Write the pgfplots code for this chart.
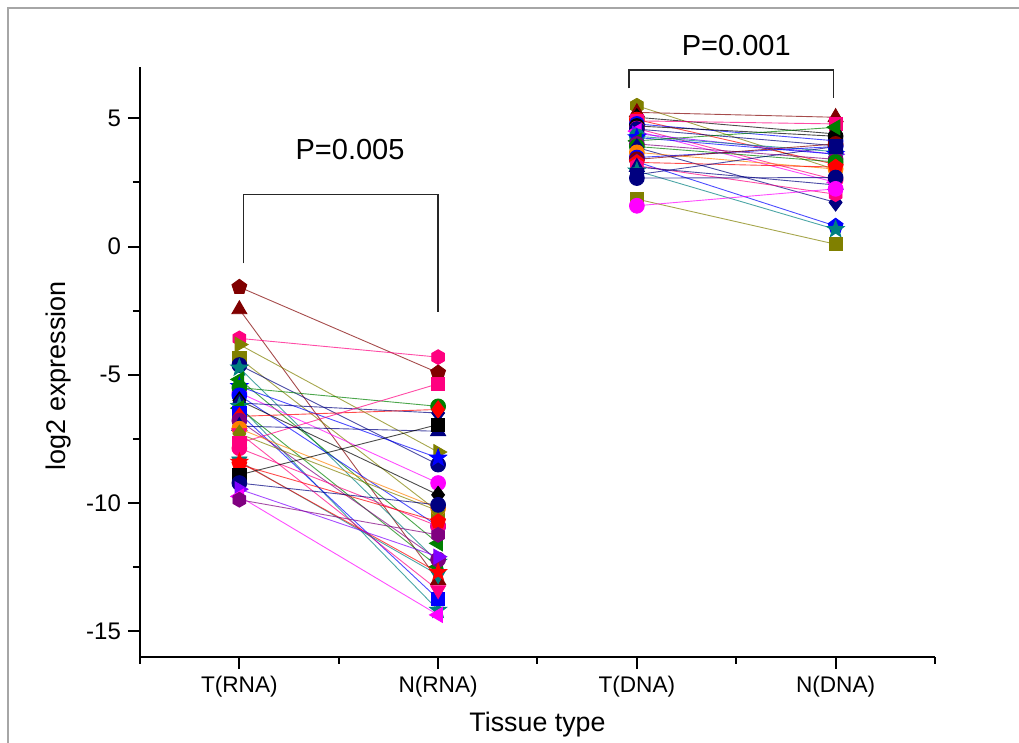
\documentclass[border=0pt]{standalone}
\usepackage{fontspec}
\setmainfont{Liberation Sans}
\usepackage{pgfplots}
\pgfplotsset{compat=1.18}
\usetikzlibrary{plotmarks}
\definecolor{oblack}{HTML}{000000}
\definecolor{ored}{HTML}{FF0000}
\definecolor{oblue}{HTML}{0000FF}
\definecolor{omag}{HTML}{FF00FF}
\definecolor{oolive}{HTML}{808000}
\definecolor{onavy}{HTML}{000080}
\definecolor{oviolet}{HTML}{8000FF}
\definecolor{opurple}{HTML}{800080}
\definecolor{owine}{HTML}{800000}
\definecolor{oteal}{HTML}{008080}
\definecolor{opink}{HTML}{FF0080}
\definecolor{ogreen}{HTML}{008000}
\definecolor{oorange}{HTML}{FF8000}
\pgfdeclareplotmark{hexagon*}{%
  \pgfpathmoveto{\pgfpointpolar{90}{\pgfplotmarksize}}%
  \pgfpathlineto{\pgfpointpolar{150}{\pgfplotmarksize}}%
  \pgfpathlineto{\pgfpointpolar{210}{\pgfplotmarksize}}%
  \pgfpathlineto{\pgfpointpolar{270}{\pgfplotmarksize}}%
  \pgfpathlineto{\pgfpointpolar{330}{\pgfplotmarksize}}%
  \pgfpathlineto{\pgfpointpolar{30}{\pgfplotmarksize}}%
  \pgfpathclose\pgfusepathqfillstroke}
\pgfdeclareplotmark{star*}{%
  \pgfpathmoveto{\pgfpointpolar{90}{1.2\pgfplotmarksize}}%
  \pgfpathlineto{\pgfpointpolar{126}{0.5\pgfplotmarksize}}%
  \pgfpathlineto{\pgfpointpolar{162}{1.2\pgfplotmarksize}}%
  \pgfpathlineto{\pgfpointpolar{198}{0.5\pgfplotmarksize}}%
  \pgfpathlineto{\pgfpointpolar{234}{1.2\pgfplotmarksize}}%
  \pgfpathlineto{\pgfpointpolar{270}{0.5\pgfplotmarksize}}%
  \pgfpathlineto{\pgfpointpolar{306}{1.2\pgfplotmarksize}}%
  \pgfpathlineto{\pgfpointpolar{342}{0.5\pgfplotmarksize}}%
  \pgfpathlineto{\pgfpointpolar{18}{1.2\pgfplotmarksize}}%
  \pgfpathlineto{\pgfpointpolar{54}{0.5\pgfplotmarksize}}%
  \pgfpathclose\pgfusepathqfillstroke}
\pgfplotsset{
  p/.style={color=#1, line width=0.45pt, draw opacity=0.7, mark size=3.7pt,
    every mark/.append style={draw opacity=1, fill opacity=1}},
  sq/.style={mark=square*, mark size=3.3pt},
  ci/.style={mark=*},
  tu/.style={mark=triangle*, mark size=4.3pt},
  td/.style={mark=triangle*, mark size=4.3pt, every mark/.append style={rotate=180}},
  tl/.style={mark=triangle*, mark size=4.3pt, every mark/.append style={rotate=90}},
  tr/.style={mark=triangle*, mark size=4.3pt, every mark/.append style={rotate=-90}},
  di/.style={mark=diamond*, mark size=4.3pt},
  hx/.style={mark=hexagon*},
  st/.style={mark=star*},
  pe/.style={mark=pentagon*, mark size=3.9pt},
}
\begin{document}
\begin{tikzpicture}
\useasboundingbox (-70pt,-43pt) rectangle (439.5pt,328.5pt);
\begin{axis}[
  at={(0,0)}, anchor=south west,
  scale only axis, width=397.5pt, height=295pt,
  xmin=-0.5, xmax=3.5, ymin=-16, ymax=7,
  axis x line*=bottom, axis y line*=left,
  axis line style={line width=1pt},
  tick align=outside,
  major tick length=6pt, minor tick length=3.5pt,
  every tick/.style={black, line width=1pt},
  xtick={0,1,2,3}, xticklabels={T(RNA),N(RNA),T(DNA),N(DNA)},
  minor xtick={-0.5,0.5,1.5,2.5,3.5},
  ytick={-15,-10,-5,0,5}, minor ytick={-12.5,-7.5,-2.5,2.5},
  /pgf/number format/assume math mode=true,
  xticklabel style={font=\fontsize{11.3}{13}\selectfont},
  yticklabel style={font=\fontsize{12}{14}\selectfont},
  xlabel={Tissue type}, ylabel={log2 expression},
  xlabel style={font=\fontsize{13.4}{15}\selectfont, at={(axis description cs:0.5,0)}, anchor=center, yshift=-34pt},
  ylabel style={font=\fontsize{13.5}{15}\selectfont, at={(axis description cs:0,0.477)}, anchor=center, yshift=40.5pt},
  clip=false,
]
% RNA pairs
\addplot[p=owine, pe] coordinates {(0,-1.58) (1,-4.92)};
\addplot[p=owine, tu] coordinates {(0,-2.45) (1,-13.0)};
\addplot[p=opink, hx] coordinates {(0,-3.58) (1,-4.31)};
\addplot[p=oolive, tr] coordinates {(0,-3.82) (1,-8.01)};
\addplot[p=oolive, sq] coordinates {(0,-4.36) (1,-10.33)};
\addplot[p=onavy, ci] coordinates {(0,-4.62) (1,-8.5)};
\addplot[p=oteal, st] coordinates {(0,-4.73) (1,-12.3)};
\addplot[p=ogreen, tl] coordinates {(0,-5.18) (1,-11.57)};
\addplot[p=oblue, st] coordinates {(0,-5.45) (1,-8.24)};
\addplot[p=omag, ci] coordinates {(0,-5.7) (1,-9.22)};
\addplot[p=ogreen, ci] coordinates {(0,-5.5) (1,-6.23)};
\addplot[p=oblue, ci] coordinates {(0,-5.8) (1,-10.9)};
\addplot[p=oblack, di] coordinates {(0,-6.0) (1,-9.68)};
\addplot[p=onavy, di] coordinates {(0,-6.1) (1,-6.49)};
\addplot[p=oteal, st] coordinates {(0,-6.23) (1,-14.17)};
\addplot[p=ogreen, tl] coordinates {(0,-6.3) (1,-12.48)};
\addplot[p=oblue, sq] coordinates {(0,-6.5) (1,-13.74)};
\addplot[p=ored, di] coordinates {(0,-6.62) (1,-6.35)};
\addplot[p=opurple, ci] coordinates {(0,-6.79) (1,-12.2)};
\addplot[p=onavy, tu] coordinates {(0,-7.0) (1,-7.2)};
\addplot[p=oorange, ci] coordinates {(0,-7.1) (1,-10.2)};
\addplot[p=opink, td] coordinates {(0,-7.27) (1,-13.39)};
\addplot[p=oolive, di] coordinates {(0,-7.3) (1,-10.3)};
\addplot[p=opink, sq] coordinates {(0,-7.66) (1,-5.35)};
\addplot[p=opink, ci] coordinates {(0,-7.86) (1,-10.9)};
\addplot[p=oteal, td] coordinates {(0,-8.37) (1,-12.8)};
\addplot[p=ored, st] coordinates {(0,-8.4) (1,-12.7)};
\addplot[p=ored, pe] coordinates {(0,-8.5) (1,-10.72)};
\addplot[p=oblack, sq] coordinates {(0,-8.9) (1,-6.94)};
\addplot[p=onavy, ci] coordinates {(0,-9.22) (1,-10.07)};
\addplot[p=oviolet, tr] coordinates {(0,-9.46) (1,-12.09)};
\addplot[p=omag, tl] coordinates {(0,-9.74) (1,-14.36)};
\addplot[p=opurple, hx] coordinates {(0,-9.87) (1,-11.24)};
% DNA pairs
\addplot[p=oolive, hx] coordinates {(2,5.49) (3,3.0)};
\addplot[p=owine, tu] coordinates {(2,5.23) (3,5.04)};
\addplot[p=oblack, di] coordinates {(2,5.04) (3,4.39)};
\addplot[p=ored, ci] coordinates {(2,4.95) (3,3.2)};
\addplot[p=opink, sq] coordinates {(2,4.9) (3,4.78)};
\addplot[p=oblue, ci] coordinates {(2,4.78) (3,4.12)};
\addplot[p=oblack, ci] coordinates {(2,4.7) (3,4.3)};
\addplot[p=opink, ci] coordinates {(2,4.6) (3,2.6)};
\addplot[p=onavy, ci] coordinates {(2,4.58) (3,3.93)};
\addplot[p=omag, tl] coordinates {(2,4.5) (3,2.5)};
\addplot[p=oviolet, tr] coordinates {(2,4.4) (3,3.6)};
\addplot[p=oteal, ci] coordinates {(2,4.3) (3,3.7)};
\addplot[p=oblue, st] coordinates {(2,4.25) (3,3.6)};
\addplot[p=ogreen, tl] coordinates {(2,4.12) (3,4.65)};
\addplot[p=opurple, ci] coordinates {(2,4.0) (3,3.4)};
\addplot[p=ogreen, ci] coordinates {(2,3.9) (3,3.3)};
\addplot[p=onavy, di] coordinates {(2,3.86) (3,1.72)};
\addplot[p=oorange, ci] coordinates {(2,3.67) (3,3.02)};
\addplot[p=oblue, ci] coordinates {(2,3.47) (3,3.9)};
\addplot[p=owine, ci] coordinates {(2,3.4) (3,4.0)};
\addplot[p=oblue, pe] coordinates {(2,3.3) (3,0.8)};
\addplot[p=ored, pe] coordinates {(2,3.28) (3,3.1)};
\addplot[p=opink, hx] coordinates {(2,3.15) (3,2.04)};
\addplot[p=onavy, tu] coordinates {(2,3.1) (3,2.4)};
\addplot[p=oteal, st] coordinates {(2,2.95) (3,0.67)};
\addplot[p=onavy, sq] coordinates {(2,2.8) (3,3.9)};
\addplot[p=onavy, ci] coordinates {(2,2.67) (3,2.69)};
\addplot[p=oolive, sq] coordinates {(2,1.85) (3,0.09)};
\addplot[p=omag, ci] coordinates {(2,1.59) (3,2.25)};
% brackets and p-values
\draw[line width=0.7pt, black!85] (axis cs:0.02,-0.66) -- (axis cs:0.02,2.03) -- (axis cs:1,2.03) -- (axis cs:1,-2.54);
\draw[line width=0.7pt, black!85] (axis cs:1.96,6.17) -- (axis cs:1.96,6.875) -- (axis cs:2.99,6.875) -- (axis cs:2.99,5.78);
\node[font=\fontsize{14.5}{16}\selectfont] at (axis cs:0.557,3.77) {P=0.005};
\node[font=\fontsize{14.5}{16}\selectfont] at (axis cs:2.50,7.84) {P=0.001};
\end{axis}
\draw[gray!70, line width=0.75pt] (-66pt,-45pt) -- (-66pt,324.5pt) -- (441pt,324.5pt);
\end{tikzpicture}
\end{document}
